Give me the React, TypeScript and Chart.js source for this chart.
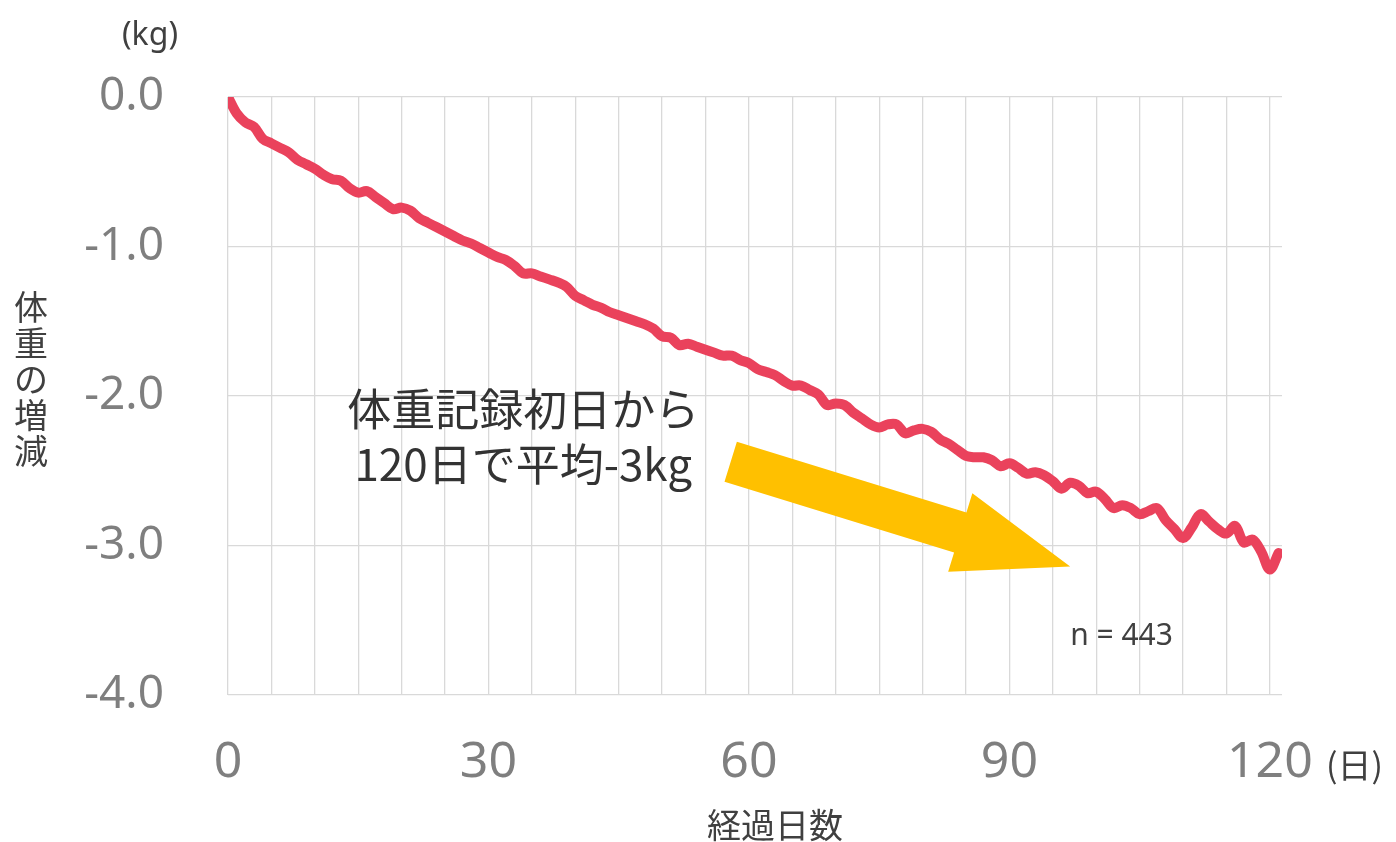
import React, { useEffect, useRef } from 'react';
import { Chart, registerables } from 'chart.js';

Chart.register(...registerables);

// 経過日数 (days since first weight record)
const days = [
  0, 1, 2, 3, 4, 5, 6, 7, 8, 9, 10, 11, 12, 13, 14, 15, 16, 17, 18, 19,
  20, 21, 22, 23, 24, 25, 26, 27, 28, 29, 30, 31, 32, 33, 34, 35, 36, 37, 38, 39,
  40, 41, 42, 43, 44, 45, 46, 47, 48, 49, 50, 51, 52, 53, 54, 55, 56, 57, 58, 59,
  60, 61, 62, 63, 64, 65, 66, 67, 68, 69, 70, 71, 72, 73, 74, 75, 76, 77, 78, 79,
  80, 81, 82, 83, 84, 85, 86, 87, 88, 89, 90, 91, 92, 93, 94, 95, 96, 97, 98, 99,
  100, 101, 102, 103, 104, 105, 106, 107, 108, 109, 110, 111, 112, 113, 114, 115, 116, 117, 118, 119,
  120, 121,
];

// 体重の増減 (kg) – average change
const weightChange = [
  0.0, -0.11, -0.17, -0.2, -0.28, -0.31, -0.34, -0.37, -0.42, -0.45,
  -0.48, -0.52, -0.55, -0.56, -0.61, -0.64, -0.63, -0.67, -0.71, -0.75,
  -0.74, -0.76, -0.81, -0.84, -0.87, -0.9, -0.93, -0.96, -0.98, -1.01,
  -1.04, -1.07, -1.09, -1.13, -1.18, -1.18, -1.2, -1.22, -1.24, -1.27,
  -1.33, -1.36, -1.39, -1.41, -1.44, -1.46, -1.48, -1.5, -1.52, -1.55,
  -1.6, -1.61, -1.66, -1.65, -1.67, -1.69, -1.71, -1.73, -1.73, -1.76,
  -1.78, -1.82, -1.84, -1.86, -1.9, -1.93, -1.93, -1.96, -1.99, -2.06,
  -2.05, -2.06, -2.11, -2.15, -2.19, -2.21, -2.19, -2.19, -2.25, -2.23,
  -2.22, -2.24, -2.29, -2.32, -2.36, -2.4, -2.41, -2.41, -2.43, -2.47,
  -2.45, -2.48, -2.52, -2.51, -2.53, -2.57, -2.62, -2.58, -2.6, -2.65,
  -2.64, -2.69, -2.75, -2.73, -2.75, -2.79, -2.77, -2.75, -2.83, -2.89,
  -2.95, -2.88, -2.79, -2.84, -2.89, -2.92, -2.87, -2.98, -2.96, -3.04,
  -3.16, -3.05,
];

const xLabelDays = [0, 30, 60, 90, 120];
const yTicks = [0, -1, -2, -3, -4];

const yUnitLabel = '(kg)';
const yTitleChars = ['体', '重', 'の', '増', '減'];
const xTitle = '経過日数';
const xUnitLabel = '(日)';
const noteLines = ['体重記録初日から', '120日で平均-3kg'];
const sampleLabel = 'n = 443';

// annotation anchors in data units
const noteAnchor = { x: 34, y: -2.09 };
const sampleAnchor = { x: 97, y: -3.61 };
const arrowTail = { x: 57.9, y: -2.44 };
const arrowTip = { x: 97.0, y: -3.14 };

const JP = "'Noto Sans CJK JP', 'Noto Sans', sans-serif";
const NUM = "'Noto Sans', 'Noto Sans CJK JP', sans-serif";

const overlayPlugin = {
  id: 'overlayTexts',
  beforeDatasetsDraw(chart: any) {
    const { ctx, scales } = chart;
    const xs = scales.x;
    const ys = scales.y;
    // arrow
    const tx = xs.getPixelForValue(arrowTail.x);
    const ty = ys.getPixelForValue(arrowTail.y);
    const px = xs.getPixelForValue(arrowTip.x);
    const py = ys.getPixelForValue(arrowTip.y);
    const dx = px - tx;
    const dy = py - ty;
    const len = Math.hypot(dx, dy);
    const ux = dx / len;
    const uy = dy / len;
    const nx = -uy;
    const ny = ux;
    const shaftHalf = 21;
    const headHalf = 41;
    const headLen = 115;
    const bx = px - ux * headLen;
    const by = py - uy * headLen;
    ctx.save();
    ctx.fillStyle = '#FFC000';
    ctx.beginPath();
    ctx.moveTo(tx + nx * shaftHalf, ty + ny * shaftHalf);
    ctx.lineTo(bx + nx * shaftHalf, by + ny * shaftHalf);
    ctx.lineTo(bx + nx * headHalf, by + ny * headHalf);
    ctx.lineTo(px, py);
    ctx.lineTo(bx - nx * headHalf, by - ny * headHalf);
    ctx.lineTo(bx - nx * shaftHalf, by - ny * shaftHalf);
    ctx.lineTo(tx - nx * shaftHalf, ty - ny * shaftHalf);
    ctx.closePath();
    ctx.fill();
    ctx.restore();
  },
  afterDraw(chart: any) {
    const { ctx, chartArea, scales } = chart;
    const xs = scales.x;
    const ys = scales.y;
    ctx.save();
    ctx.textBaseline = 'middle';

    // (kg)
    ctx.fillStyle = '#404040';
    ctx.font = `32px ${NUM}`;
    ctx.textAlign = 'center';
    ctx.fillText(yUnitLabel, chartArea.left - 78, chartArea.top - 61);

    // vertical y title
    ctx.font = `34px ${JP}`;
    ctx.fillStyle = '#404040';
    yTitleChars.forEach((c, i) => {
      ctx.fillText(c, 31, 307 + i * 36);
    });

    // x title
    ctx.font = `34px ${JP}`;
    ctx.fillText(xTitle, (chartArea.left + chartArea.right) / 2 + 20, chartArea.bottom + 130);

    // (日)
    ctx.font = `34px ${JP}`;
    ctx.textAlign = 'left';
    ctx.fillText(xUnitLabel, chartArea.right + 44, chartArea.bottom + 70);

    // note
    ctx.font = `44px ${JP}`;
    ctx.fillStyle = '#333333';
    ctx.textAlign = 'center';
    const nx = xs.getPixelForValue(noteAnchor.x);
    const ny = ys.getPixelForValue(noteAnchor.y);
    noteLines.forEach((line, i) => {
      ctx.fillText(line, nx, ny + i * 55);
    });

    // n = 443
    ctx.font = `30px ${NUM}`;
    ctx.fillStyle = '#404040';
    ctx.textAlign = 'left';
    ctx.fillText(sampleLabel, xs.getPixelForValue(sampleAnchor.x), ys.getPixelForValue(sampleAnchor.y));

    ctx.restore();
  },
};

export default function App() {
  const canvasRef = useRef<HTMLCanvasElement | null>(null);

  useEffect(() => {
    if (!canvasRef.current) return;
    const points = weightChange.map((v, i) => ({ x: days[i], y: v }));
    const chart = new Chart(canvasRef.current, {
      type: 'line',
      data: {
        datasets: [
          {
            data: points,
            borderColor: '#EA425C',
            borderWidth: 10,
            pointRadius: 0,
            tension: 0.35,
            borderJoinStyle: 'round',
            borderCapStyle: 'round',
            fill: false,
          },
        ],
      },
      options: {
        animation: false,
        responsive: false,
        maintainAspectRatio: false,
        devicePixelRatio: 1,
        layout: { padding: { top: 97, right: 114, bottom: 27, left: 28 } },
        plugins: { legend: { display: false }, tooltip: { enabled: false }, title: { display: false } },
        scales: {
          x: {
            type: 'linear',
            min: 0,
            max: 121.4,
            afterFit: (s: any) => {
              s.height = 120;
            },
            border: { display: false },
            grid: { color: '#D9D9D9', lineWidth: 1.3, drawTicks: false },
            ticks: {
              stepSize: 5,
              includeBounds: false,
              autoSkip: false,
              maxRotation: 0,
              padding: 38,
              color: '#7F7F7F',
              font: { family: NUM, size: 50 },
              callback: (v: any) => (xLabelDays.includes(Number(v)) ? String(v) : ''),
            },
          },
          y: {
            type: 'linear',
            min: -4,
            max: 0,
            afterFit: (s: any) => {
              s.width = 200;
            },
            border: { display: false },
            grid: { color: '#D9D9D9', lineWidth: 1.3, drawTicks: false },
            ticks: {
              stepSize: 1,
              padding: 64,
              color: '#7F7F7F',
              font: { family: NUM, size: 46 },
              callback: (v: any) => (yTicks.includes(Number(v)) ? Number(v).toFixed(1) : ''),
            },
          },
        },
      },
      plugins: [overlayPlugin],
    });
    return () => chart.destroy();
  }, []);

  return (
    <div style={{ position: 'fixed', left: 0, top: 0, width: 1396, height: 842, background: '#FFFFFF' }}>
      <canvas ref={canvasRef} width={1396} height={842} style={{ width: 1396, height: 842, display: 'block' }} />
    </div>
  );
}
